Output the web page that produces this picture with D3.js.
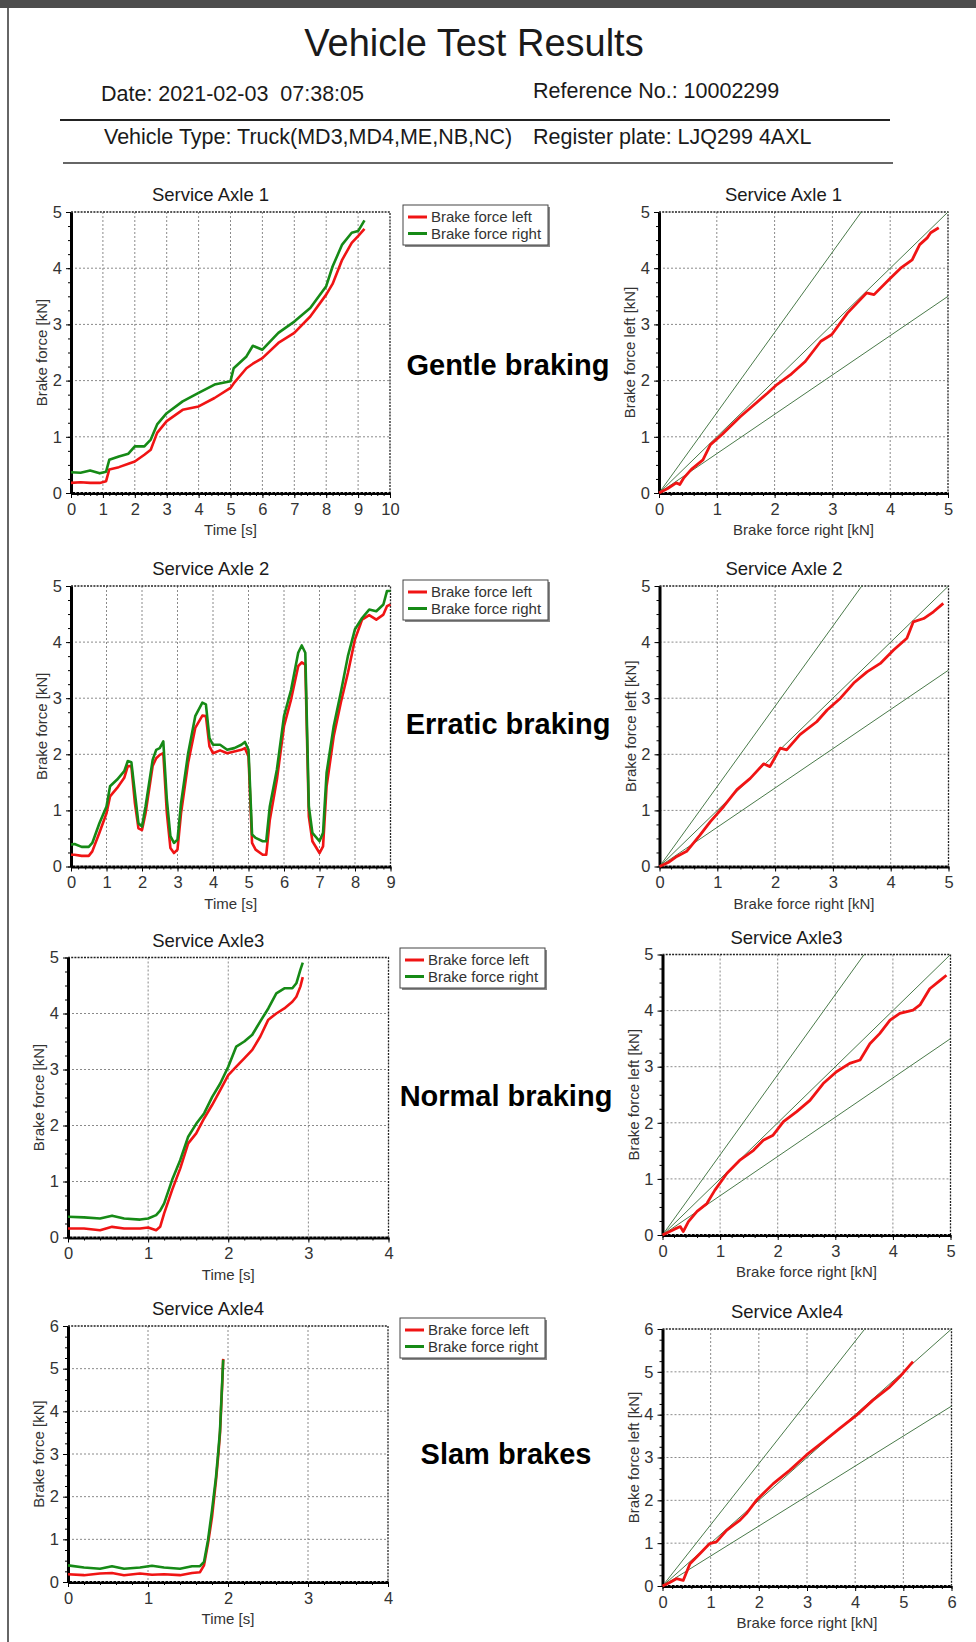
<!DOCTYPE html>
<html>
<head>
<meta charset="utf-8">
<script src="https://cdn.jsdelivr.net/npm/d3@7"></script>
<style>
  body { margin: 0; background: #fff; }
  svg text { font-family: "Liberation Sans", Arial, sans-serif; fill: #1a1a1a; }
</style>
</head>
<body>
<script>
// ---- data ----

const legendNames = ['Brake force left', 'Brake force right'];
const sectionNames = ['Gentle braking', 'Erratic braking', 'Normal braking', 'Slam brakes'];
const axleTitles = ['Service Axle 1', 'Service Axle 2', 'Service Axle3', 'Service Axle4'];
const ratioLines = [1 / 0.7, 1, 0.7];

// axle 1 - gentle braking
const axle1Time = [0, 0.3, 0.6, 0.9, 1.1, 1.2, 1.5, 1.8, 2.0, 2.3, 2.5, 2.7, 3.0, 3.5, 4.0, 4.5, 5.0, 5.1, 5.5, 5.7, 6.0, 6.5, 7.0, 7.5, 8.0, 8.2, 8.5, 8.8, 9.0, 9.2];
const axle1Left = [0.18, 0.19, 0.18, 0.18, 0.21, 0.42, 0.46, 0.52, 0.56, 0.68, 0.77, 1.07, 1.28, 1.48, 1.54, 1.69, 1.87, 1.95, 2.22, 2.30, 2.40, 2.67, 2.85, 3.14, 3.53, 3.72, 4.15, 4.45, 4.57, 4.70];
const axle1Right = [0.37, 0.36, 0.40, 0.35, 0.38, 0.59, 0.65, 0.70, 0.83, 0.83, 0.95, 1.22, 1.42, 1.63, 1.78, 1.93, 1.99, 2.22, 2.43, 2.62, 2.55, 2.85, 3.05, 3.29, 3.68, 4.03, 4.42, 4.63, 4.66, 4.85];
const axle1RatioX = [0, 0.15, 0.3, 0.36, 0.43, 0.56, 0.76, 0.89, 1.09, 1.41, 1.61, 1.88, 2.04, 2.27, 2.53, 2.8, 2.99, 3.26, 3.59, 3.72, 3.98, 4.18, 4.38, 4.51, 4.64, 4.7, 4.84];
const axle1RatioY = [0, 0.08, 0.18, 0.15, 0.27, 0.42, 0.59, 0.86, 1.04, 1.36, 1.54, 1.78, 1.93, 2.1, 2.34, 2.7, 2.82, 3.2, 3.56, 3.53, 3.8, 4.0, 4.15, 4.42, 4.54, 4.63, 4.72];

// axle 2 - erratic braking
const axle2Time = [0, 0.1, 0.3, 0.5, 0.6, 0.8, 1.0, 1.1, 1.3, 1.5, 1.6, 1.7, 1.8, 1.9, 2.0, 2.1, 2.3, 2.4, 2.5, 2.6, 2.7, 2.8, 2.9, 3.0, 3.1, 3.3, 3.5, 3.7, 3.8, 3.9, 4.0, 4.2, 4.4, 4.6, 4.8, 4.9, 5.0, 5.1, 5.2, 5.4, 5.5, 5.6, 5.8, 6.0, 6.2, 6.4, 6.5, 6.6, 6.7, 6.8, 7.0, 7.1, 7.2, 7.4, 7.6, 7.8, 8.0, 8.2, 8.4, 8.6, 8.8, 8.9, 9.0];
const axle2Left = [0.21, 0.21, 0.19, 0.19, 0.27, 0.60, 0.95, 1.25, 1.40, 1.58, 1.79, 1.79, 1.13, 0.68, 0.65, 0.95, 1.79, 1.93, 1.99, 2.02, 0.95, 0.33, 0.24, 0.30, 0.95, 1.85, 2.47, 2.69, 2.68, 2.14, 2.02, 2.07, 2.02, 2.05, 2.08, 2.11, 1.96, 0.42, 0.30, 0.21, 0.21, 0.83, 1.55, 2.50, 2.98, 3.57, 3.64, 3.60, 0.89, 0.45, 0.24, 0.36, 1.43, 2.32, 2.92, 3.45, 4.05, 4.40, 4.48, 4.40, 4.49, 4.64, 4.67];
const axle2Right = [0.39, 0.40, 0.35, 0.35, 0.42, 0.77, 1.07, 1.43, 1.55, 1.70, 1.88, 1.86, 1.31, 0.77, 0.71, 1.07, 1.90, 2.08, 2.11, 2.23, 1.19, 0.54, 0.42, 0.48, 1.13, 2.02, 2.68, 2.92, 2.89, 2.29, 2.17, 2.17, 2.08, 2.11, 2.17, 2.22, 2.08, 0.57, 0.51, 0.45, 0.45, 1.07, 1.73, 2.68, 3.15, 3.81, 3.94, 3.81, 1.07, 0.60, 0.45, 0.60, 1.67, 2.50, 3.10, 3.75, 4.23, 4.43, 4.58, 4.55, 4.67, 4.91, 4.91];
const axle2RatioX = [0, 0.15, 0.3, 0.47, 0.7, 0.88, 1.11, 1.34, 1.57, 1.8, 1.91, 2.09, 2.2, 2.43, 2.72, 2.9, 3.13, 3.36, 3.59, 3.82, 4.05, 4.28, 4.39, 4.57, 4.74, 4.91];
const axle2RatioY = [0, 0.07, 0.18, 0.27, 0.56, 0.8, 1.07, 1.37, 1.57, 1.83, 1.78, 2.11, 2.08, 2.35, 2.58, 2.79, 3.0, 3.27, 3.47, 3.62, 3.86, 4.07, 4.36, 4.42, 4.54, 4.69];

// axle 3 - normal braking
const axle3Time = [0, 0.2, 0.4, 0.55, 0.7, 0.9, 1.0, 1.1, 1.15, 1.2, 1.3, 1.4, 1.5, 1.6, 1.7, 1.8, 1.9, 2.0, 2.1, 2.2, 2.3, 2.4, 2.5, 2.6, 2.7, 2.8, 2.85, 2.9, 2.93];
const axle3Left = [0.16, 0.16, 0.13, 0.19, 0.16, 0.16, 0.18, 0.13, 0.19, 0.43, 0.85, 1.23, 1.68, 1.86, 2.13, 2.37, 2.63, 2.90, 3.05, 3.20, 3.35, 3.59, 3.89, 4.00, 4.09, 4.21, 4.30, 4.48, 4.65];
const axle3Right = [0.37, 0.36, 0.34, 0.39, 0.34, 0.32, 0.34, 0.40, 0.48, 0.61, 1.03, 1.38, 1.80, 2.03, 2.22, 2.51, 2.75, 3.05, 3.41, 3.50, 3.62, 3.86, 4.09, 4.36, 4.45, 4.45, 4.54, 4.78, 4.91];
const axle3RatioX = [0, 0.2, 0.31, 0.36, 0.45, 0.6, 0.77, 0.91, 1.12, 1.35, 1.58, 1.75, 1.92, 2.1, 2.33, 2.56, 2.79, 3.02, 3.25, 3.43, 3.6, 3.77, 3.95, 4.12, 4.35, 4.47, 4.64, 4.82, 4.93];
const axle3RatioY = [0, 0.1, 0.15, 0.06, 0.24, 0.42, 0.56, 0.8, 1.1, 1.34, 1.51, 1.69, 1.78, 2.02, 2.2, 2.4, 2.7, 2.91, 3.06, 3.12, 3.41, 3.59, 3.83, 3.95, 4.01, 4.1, 4.39, 4.54, 4.63];

// axle 4 - slam brakes
const axle4Time = [0, 0.2, 0.4, 0.55, 0.7, 0.9, 1.05, 1.2, 1.4, 1.55, 1.65, 1.7, 1.75, 1.8, 1.85, 1.88, 1.9, 1.93, 1.94];
const axle4Left = [0.18, 0.16, 0.20, 0.21, 0.16, 0.20, 0.17, 0.18, 0.16, 0.21, 0.23, 0.39, 0.90, 1.52, 2.38, 3.00, 3.48, 4.73, 5.23];
const axle4Right = [0.39, 0.34, 0.31, 0.37, 0.31, 0.34, 0.38, 0.34, 0.31, 0.37, 0.37, 0.47, 0.98, 1.68, 2.46, 3.09, 3.55, 4.80, 5.21];
const axle4RatioX = [0, 0.15, 0.29, 0.43, 0.57, 0.78, 0.98, 1.12, 1.33, 1.61, 1.74, 1.95, 2.3, 2.64, 2.99, 3.34, 3.68, 4.03, 4.37, 4.72, 4.93, 5.2];
const axle4RatioY = [0, 0.08, 0.17, 0.13, 0.52, 0.76, 0.99, 1.03, 1.3, 1.54, 1.69, 2.0, 2.39, 2.7, 3.06, 3.37, 3.68, 3.99, 4.34, 4.65, 4.89, 5.24];

// ---- page ----

const RED = '#f01414';
const GREEN = '#168a16';

const svg = d3.select('body')
  .append('svg')
  .attr('width', 976)
  .attr('height', 1642);

svg.append('rect').attr('x', 0).attr('y', 0).attr('width', 976).attr('height', 8).attr('fill', '#4d4d4d');
svg.append('line').attr('x1', 8).attr('x2', 8).attr('y1', 8).attr('y2', 1642)
  .attr('stroke', '#666').attr('stroke-width', 2);

svg.append('text').attr('x', 474).attr('y', 56).attr('text-anchor', 'middle')
  .style('font-size', '38px').text('Vehicle Test Results');
svg.append('text').attr('x', 101).attr('y', 101).style('font-size', '21.5px').text('Date: 2021-02-03\u00a0\u00a007:38:05');
svg.append('text').attr('x', 533).attr('y', 98).style('font-size', '21.5px').text('Reference No.: 10002299');
svg.append('line').attr('x1', 60).attr('x2', 890).attr('y1', 120).attr('y2', 120)
  .attr('stroke', '#222').attr('stroke-width', 2);
svg.append('text').attr('x', 104).attr('y', 144).style('font-size', '21.5px').text('Vehicle Type: Truck(MD3,MD4,ME,NB,NC)');
svg.append('text').attr('x', 533).attr('y', 144).style('font-size', '21.5px').text('Register plate: LJQ299 4AXL');
svg.append('line').attr('x1', 63).attr('x2', 893).attr('y1', 163).attr('y2', 163)
  .attr('stroke', '#333').attr('stroke-width', 1.5);

let clipId = 0;

// grid, frame, axes and labels shared by both chart kinds
function drawFrame(x, y, xMax, yMax, title, xLabel, yLabel) {
  const [l, r] = x.range();
  const [b, t] = y.range();
  const g = svg.append('g');

  g.selectAll('.vgrid').data(d3.range(1, xMax)).enter().append('line')
    .attr('x1', (d) => x(d)).attr('x2', (d) => x(d)).attr('y1', t).attr('y2', b)
    .attr('stroke', '#8a8a8a').attr('stroke-dasharray', '2,2');
  g.selectAll('.hgrid').data(d3.range(1, yMax)).enter().append('line')
    .attr('x1', l).attr('x2', r).attr('y1', (d) => y(d)).attr('y2', (d) => y(d))
    .attr('stroke', '#8a8a8a').attr('stroke-dasharray', '2,2');

  // top and right borders are dotted
  g.append('path').attr('d', `M${l},${t}H${r}V${b}`).attr('fill', 'none')
    .attr('stroke', '#222').attr('stroke-width', 1.3).attr('stroke-dasharray', '2,1.2');

  const xMinor = g.append('g').attr('transform', `translate(0,${b})`)
    .call(d3.axisBottom(x).tickValues(d3.range(0, xMax + 0.001, 0.2)).tickSize(3).tickFormat(''));
  xMinor.select('.domain').remove();
  const yMinor = g.append('g').attr('transform', `translate(${l},0)`)
    .call(d3.axisLeft(y).tickValues(d3.range(0, yMax + 0.001, 0.25)).tickSize(3).tickFormat(''));
  yMinor.select('.domain').remove();

  const xAxis = g.append('g').attr('transform', `translate(0,${b})`)
    .call(d3.axisBottom(x).ticks(xMax).tickSize(5).tickPadding(5).tickSizeOuter(0));
  const yAxis = g.append('g').attr('transform', `translate(${l},0)`)
    .call(d3.axisLeft(y).ticks(yMax).tickSize(5).tickPadding(4).tickSizeOuter(0));

  [xAxis, yAxis].forEach((a) => {
    a.attr('font-size', 16.5).attr('font-family', '"Liberation Sans", Arial, sans-serif');
    a.selectAll('text').style('fill', '#333');
    a.select('.domain').attr('stroke', '#000').attr('stroke-width', 3);
  });
  // bottom axis looks dotted through the thick line
  xAxis.append('line').attr('x1', l).attr('x2', r).attr('y1', -0.6).attr('y2', -0.6)
    .attr('stroke', '#fff').attr('stroke-width', 0.8).attr('stroke-dasharray', '1.5,2.5');

  g.append('text').attr('x', (l + r) / 2 - 20).attr('y', t - 11).attr('text-anchor', 'middle')
    .style('font-size', '18.5px').text(title);
  g.append('text').attr('x', (l + r) / 2).attr('y', b + 42).attr('text-anchor', 'middle')
    .style('font-size', '15px').style('fill', '#333').text(xLabel);
  g.append('text').attr('transform', `translate(${l - 24},${(t + b) / 2}) rotate(-90)`)
    .attr('text-anchor', 'middle').style('font-size', '15px').style('fill', '#333').text(yLabel);
}

function timeChart(c) {
  const x = d3.scaleLinear().domain([0, c.xMax]).range([c.left, c.right]);
  const y = d3.scaleLinear().domain([0, c.yMax]).range([c.bottom, c.top]);
  drawFrame(x, y, c.xMax, c.yMax, c.title, 'Time [s]', 'Brake force [kN]');

  const line = d3.line().x((d) => x(d[0])).y((d) => y(d[1]));
  [[c.leftForce, RED], [c.rightForce, GREEN]].forEach(([vals, color]) => {
    svg.append('path')
      .datum(c.time.map((t, i) => [t, vals[i]]))
      .attr('d', line)
      .attr('fill', 'none')
      .attr('stroke', color)
      .attr('stroke-width', 2.6)
      .attr('stroke-linejoin', 'round');
  });

  // legend
  const lg = svg.append('g').attr('transform', `translate(${c.legendX},${c.legendY})`);
  lg.append('rect').attr('x', 2).attr('y', 2).attr('width', 145).attr('height', 40).attr('fill', '#888');
  lg.append('rect').attr('width', 145).attr('height', 40).attr('fill', '#fff')
    .attr('stroke', '#444').attr('stroke-width', 1);
  legendNames.forEach((name, i) => {
    const ly = 12 + i * 16.5;
    lg.append('line').attr('x1', 5).attr('x2', 24).attr('y1', ly).attr('y2', ly)
      .attr('stroke', i === 0 ? RED : GREEN).attr('stroke-width', 3);
    lg.append('text').attr('x', 28).attr('y', ly + 5).style('font-size', '15px').style('fill', '#333').text(name);
  });

  svg.append('text').attr('x', c.labelX).attr('y', c.labelY).attr('text-anchor', 'middle')
    .style('font-size', '29px').style('font-weight', 'bold').style('fill', '#000')
    .text(c.section);
}

function ratioChart(c) {
  const x = d3.scaleLinear().domain([0, c.max]).range([c.left, c.right]);
  const y = d3.scaleLinear().domain([0, c.max]).range([c.bottom, c.top]);
  drawFrame(x, y, c.max, c.max, c.title, 'Brake force right [kN]', 'Brake force left [kN]');

  clipId += 1;
  svg.append('clipPath').attr('id', `clip${clipId}`)
    .append('rect').attr('x', c.left).attr('y', c.top)
    .attr('width', c.right - c.left).attr('height', c.bottom - c.top);

  svg.append('g').attr('clip-path', `url(#clip${clipId})`)
    .selectAll('line').data(ratioLines).enter().append('line')
    .attr('x1', x(0)).attr('y1', y(0))
    .attr('x2', x(c.max)).attr('y2', (d) => y(d * c.max))
    .attr('stroke', '#4a7a4a').attr('stroke-width', 1);

  const line = d3.line().x((d) => x(d[0])).y((d) => y(d[1]));
  svg.append('path')
    .datum(c.rx.map((v, i) => [v, c.ry[i]]))
    .attr('d', line)
    .attr('fill', 'none')
    .attr('stroke', RED)
    .attr('stroke-width', 2.8)
    .attr('stroke-linejoin', 'round');
}

const rows = [
  { time: axle1Time, leftForce: axle1Left, rightForce: axle1Right, rx: axle1RatioX, ry: axle1RatioY,
    xMax: 10, yMax: 5, L: [71, 390, 212, 493], R: [659, 948, 212, 493], legend: [403, 205], label: [508, 375] },
  { time: axle2Time, leftForce: axle2Left, rightForce: axle2Right, rx: axle2RatioX, ry: axle2RatioY,
    xMax: 9, yMax: 5, L: [71, 390.5, 586, 866.5], R: [659.5, 948.5, 586, 866.5], legend: [403, 580], label: [508, 734] },
  { time: axle3Time, leftForce: axle3Left, rightForce: axle3Right, rx: axle3RatioX, ry: axle3RatioY,
    xMax: 4, yMax: 5, L: [68, 388.5, 957.5, 1237.5], R: [662.5, 950.5, 954.5, 1235], legend: [400, 948], label: [506, 1106] },
  { time: axle4Time, leftForce: axle4Left, rightForce: axle4Right, rx: axle4RatioX, ry: axle4RatioY,
    xMax: 4, yMax: 6, L: [68, 388, 1326, 1582], R: [662.5, 951.5, 1329, 1586], legend: [400, 1318], label: [506, 1464] },
];

rows.forEach((r, i) => {
  timeChart({
    left: r.L[0], right: r.L[1], top: r.L[2], bottom: r.L[3],
    xMax: r.xMax, yMax: r.yMax, title: axleTitles[i],
    time: r.time, leftForce: r.leftForce, rightForce: r.rightForce,
    legendX: r.legend[0], legendY: r.legend[1],
    labelX: r.label[0], labelY: r.label[1], section: sectionNames[i],
  });
  ratioChart({
    left: r.R[0], right: r.R[1], top: r.R[2], bottom: r.R[3],
    max: r.yMax, title: axleTitles[i], rx: r.rx, ry: r.ry,
  });
});
</script>
</body>
</html>
